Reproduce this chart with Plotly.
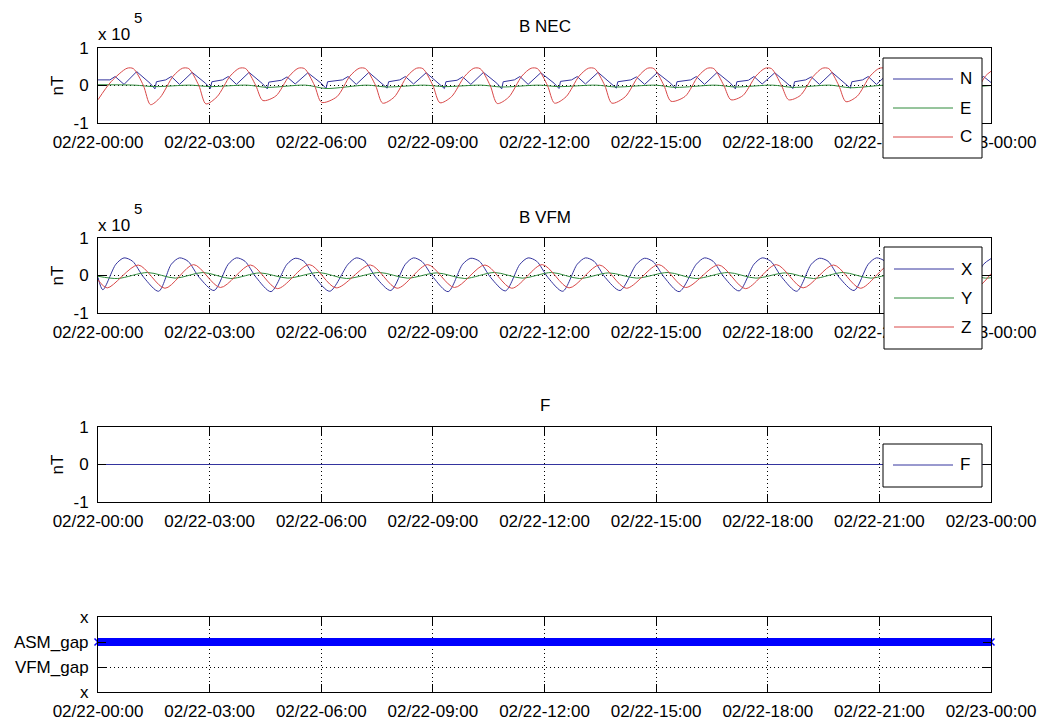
import pandas as pd
import plotly.graph_objects as go

DAY_START = pd.Timestamp("2014-02-22 00:00")
TICK_HOURS = [0, 3, 6, 9, 12, 15, 18, 21, 24]

# ---- B NEC, values in units of 1e5 nT ----
nec_c_hours = [0.00, 0.35,
               0.78, 0.95, 1.22, 1.41, 1.67, 2.02,
               2.27, 2.44, 2.71, 2.90, 3.20, 3.55,
               3.80, 3.97, 4.24, 4.43, 4.78, 5.13,
               5.38, 5.55, 5.82, 6.01, 6.42, 6.77,
               7.02, 7.19, 7.46, 7.65, 7.96, 8.31,
               8.56, 8.73, 9.00, 9.19, 9.50, 9.85,
               10.10, 10.27, 10.54, 10.73, 11.04, 11.39,
               11.64, 11.81, 12.08, 12.27, 12.58, 12.93,
               13.18, 13.35, 13.62, 13.81, 14.17, 14.52,
               14.77, 14.94, 15.21, 15.40, 15.78, 16.13,
               16.38, 16.55, 16.82, 17.01, 17.33, 17.68,
               17.93, 18.10, 18.37, 18.56, 18.87, 19.22,
               19.47, 19.64, 19.91, 20.10, 20.40, 20.75,
               21.00, 21.17, 21.44, 21.63, 21.95, 22.30,
               22.55, 22.72, 22.99, 23.18, 23.50, 23.85,
               24.00]
nec_c = [-0.38, 0.10,
         0.46, 0.45, 0.00, -0.51, -0.32, 0.25,
         0.46, 0.45, 0.00, -0.49, -0.30, 0.25,
         0.46, 0.45, 0.00, -0.40, -0.28, 0.24,
         0.46, 0.45, 0.00, -0.45, -0.30, 0.25,
         0.46, 0.45, 0.00, -0.47, -0.31, 0.25,
         0.46, 0.45, 0.00, -0.46, -0.30, 0.24,
         0.46, 0.45, 0.00, -0.48, -0.31, 0.25,
         0.46, 0.45, 0.00, -0.47, -0.30, 0.25,
         0.46, 0.45, 0.00, -0.47, -0.30, 0.24,
         0.46, 0.45, 0.00, -0.42, -0.29, 0.25,
         0.46, 0.45, 0.00, -0.38, -0.27, 0.25,
         0.46, 0.45, 0.00, -0.38, -0.27, 0.24,
         0.46, 0.45, 0.00, -0.43, -0.29, 0.25,
         0.46, 0.45, 0.00, -0.45, -0.30, 0.25,
         0.46, 0.45, 0.00, -0.45, -0.30, 0.25,
         0.38]

nec_n_hours = [0.00, 0.32, 0.46,
               0.70, 1.04, 1.40, 1.53, 1.57, 1.82, 1.97,
               2.19, 2.53, 2.89, 3.02, 3.06, 3.35, 3.50,
               3.72, 4.06, 4.42, 4.55, 4.59, 4.93, 5.08,
               5.30, 5.64, 6.00, 6.13, 6.17, 6.57, 6.72,
               6.94, 7.28, 7.64, 7.77, 7.81, 8.11, 8.26,
               8.48, 8.82, 9.18, 9.31, 9.35, 9.65, 9.80,
               10.02, 10.36, 10.72, 10.85, 10.89, 11.19, 11.34,
               11.56, 11.90, 12.26, 12.39, 12.43, 12.73, 12.88,
               13.10, 13.44, 13.80, 13.93, 13.97, 14.32, 14.47,
               14.69, 15.03, 15.39, 15.52, 15.56, 15.93, 16.08,
               16.30, 16.64, 17.00, 17.13, 17.17, 17.48, 17.63,
               17.85, 18.19, 18.55, 18.68, 18.72, 19.02, 19.17,
               19.39, 19.73, 20.09, 20.22, 20.26, 20.55, 20.70,
               20.92, 21.26, 21.62, 21.75, 21.79, 22.10, 22.25,
               22.47, 22.81, 23.17, 23.30, 23.34, 23.65, 23.80,
               24.00]
nec_n = [0.15, 0.15, 0.24,
         0.03, 0.37, 0.06, -0.09, 0.10, 0.15, 0.24,
         0.03, 0.35, 0.06, -0.08, 0.10, 0.15, 0.24,
         0.03, 0.35, 0.05, -0.09, 0.09, 0.14, 0.23,
         0.04, 0.34, 0.06, -0.08, 0.10, 0.15, 0.24,
         0.03, 0.35, 0.06, -0.07, 0.10, 0.15, 0.24,
         0.04, 0.34, 0.05, -0.08, 0.10, 0.14, 0.23,
         0.03, 0.35, 0.06, -0.09, 0.10, 0.15, 0.24,
         0.03, 0.34, 0.06, -0.08, 0.11, 0.15, 0.24,
         0.04, 0.35, 0.05, -0.07, 0.10, 0.15, 0.23,
         0.03, 0.34, 0.06, -0.08, 0.10, 0.15, 0.24,
         0.03, 0.35, 0.06, -0.09, 0.10, 0.14, 0.24,
         0.04, 0.34, 0.05, -0.08, 0.10, 0.15, 0.23,
         0.03, 0.35, 0.06, -0.07, 0.10, 0.15, 0.24,
         0.03, 0.34, 0.06, -0.08, 0.10, 0.15, 0.24,
         0.04, 0.35, 0.05, -0.08, 0.10, 0.15, 0.24,
         0.08]

nec_e_hours = [0.00, 0.98, 1.53, 2.47, 3.02, 4.00, 4.55, 5.58, 6.13, 7.22, 7.77, 8.76, 9.31,
               10.30, 10.85, 11.84, 12.39, 13.38, 13.93, 14.97, 15.52, 16.58, 17.13,
               18.13, 18.68, 19.67, 20.22, 21.20, 21.75, 22.75, 23.30, 24.00]
nec_e = [0.02, 0.01, -0.03, 0.01, -0.03, 0.01, -0.05, 0.01, -0.08, 0.01, -0.04, 0.01, -0.03,
         0.01, -0.04, 0.01, -0.03, 0.01, -0.04, 0.01, -0.05, 0.01, -0.04,
         0.01, -0.05, 0.01, -0.06, 0.01, -0.04, 0.01, -0.04, 0.00]

# ---- B VFM, values in units of 1e5 nT ----
vfm_x_hours = [0.00, 0.13,
               0.48, 0.70, 0.93, 1.23, 1.63,
               1.97, 2.19, 2.42, 2.72, 3.12,
               3.50, 3.72, 3.95, 4.25, 4.65,
               5.08, 5.30, 5.53, 5.83, 6.23,
               6.72, 6.94, 7.17, 7.47, 7.87,
               8.26, 8.48, 8.71, 9.01, 9.41,
               9.80, 10.02, 10.25, 10.55, 10.95,
               11.34, 11.56, 11.79, 12.09, 12.49,
               12.88, 13.10, 13.33, 13.63, 14.03,
               14.47, 14.69, 14.92, 15.22, 15.62,
               16.08, 16.30, 16.53, 16.83, 17.23,
               17.63, 17.85, 18.08, 18.38, 18.78,
               19.17, 19.39, 19.62, 19.92, 20.32,
               20.70, 20.92, 21.15, 21.45, 21.85,
               22.25, 22.47, 22.70, 23.00, 23.40,
               23.80, 24.00]
vfm_x = [-0.05, -0.38,
         0.30, 0.47, 0.38, -0.05, -0.42,
         0.30, 0.47, 0.38, -0.05, -0.40,
         0.30, 0.47, 0.38, -0.05, -0.43,
         0.30, 0.46, 0.38, -0.05, -0.42,
         0.30, 0.47, 0.38, -0.05, -0.40,
         0.30, 0.47, 0.37, -0.05, -0.43,
         0.30, 0.46, 0.38, -0.05, -0.41,
         0.30, 0.47, 0.38, -0.05, -0.42,
         0.30, 0.47, 0.38, -0.05, -0.40,
         0.30, 0.46, 0.37, -0.05, -0.43,
         0.30, 0.47, 0.38, -0.05, -0.41,
         0.30, 0.47, 0.38, -0.05, -0.42,
         0.30, 0.46, 0.38, -0.05, -0.40,
         0.30, 0.47, 0.38, -0.05, -0.42,
         0.30, 0.47, 0.37, -0.05, -0.41,
         0.30, 0.45]

vfm_z_hours = [0.00, 0.25, 1.08, 1.80, 2.57, 3.29, 4.10, 4.82, 5.68, 6.40, 7.32, 8.04,
               8.86, 9.58, 10.40, 11.12, 11.94, 12.66, 13.48, 14.20, 15.07, 15.79,
               16.68, 17.40, 18.23, 18.95, 19.77, 20.49, 21.30, 22.02, 22.85, 23.57, 24.00]
vfm_z = [-0.12, -0.33, 0.28, -0.34, 0.29, -0.32, 0.28, -0.35, 0.29, -0.33, 0.28, -0.34,
         0.29, -0.32, 0.28, -0.34, 0.29, -0.33, 0.28, -0.34, 0.29, -0.32,
         0.28, -0.35, 0.29, -0.33, 0.28, -0.34, 0.29, -0.32, 0.28, -0.34, 0.05]

vfm_y_hours = [0.00, 0.53, 1.33, 2.08, 2.82, 3.57, 4.35, 5.10, 5.93, 6.68, 7.57, 8.32,
               9.11, 9.86, 10.65, 11.40, 12.19, 12.94, 13.73, 14.48, 15.32, 16.07,
               16.93, 17.68, 18.48, 19.23, 20.02, 20.77, 21.55, 22.30, 23.10, 23.85, 24.00]
vfm_y = [-0.02, -0.08, 0.08, -0.07, 0.08, -0.08, 0.07, -0.07, 0.08, -0.08, 0.08, -0.07,
         0.07, -0.08, 0.08, -0.07, 0.08, -0.08, 0.07, -0.07, 0.08, -0.08,
         0.08, -0.07, 0.07, -0.08, 0.08, -0.07, 0.08, -0.08, 0.07, -0.07, -0.06]

# ---- F and gap flags ----
f_hours = [0, 6, 12, 18, 24]
f_values = [0, 0, 0, 0, 0]

asm_gap_hours = list(range(0, 25))
GAP_LEVELS = [0, 1, 2, 3]
GAP_LABELS = ["x", "VFM_gap", "ASM_gap", "x"]
ASM_GAP_LEVEL = 2


def stamps(hours):
    return [DAY_START + pd.Timedelta(hours=h) for h in hours]


W, H = 1041, 722
PLOT_LEFT, PLOT_RIGHT = 98, 991
PANEL_PX = [(48, 123), (238, 313), (427, 502), (617, 692)]
FONT = "Liberation Sans, Arial, sans-serif"
FS = 17
BLUE, GREEN, RED = "#34349e", "#2e8a3a", "#d94848"


def px_x(x):
    return x / W


def px_y(y):
    return 1 - y / H


fig = go.Figure()


def add_line(panel, hours, values, color, shape="linear", name=None):
    sfx = "" if panel == 1 else str(panel)
    fig.add_trace(go.Scatter(
        x=stamps(hours), y=values, mode="lines", name=name,
        line=dict(color=color, width=1, shape=shape, smoothing=0.8),
        xaxis="x" + sfx, yaxis="y" + sfx, showlegend=False, hoverinfo="skip"))


add_line(1, nec_n_hours, nec_n, BLUE, "linear", "N")
add_line(1, nec_e_hours, nec_e, GREEN, "spline", "E")
add_line(1, nec_c_hours, nec_c, RED, "spline", "C")
add_line(2, vfm_x_hours, vfm_x, BLUE, "spline", "X")
add_line(2, vfm_y_hours, vfm_y, GREEN, "spline", "Y")
add_line(2, vfm_z_hours, vfm_z, RED, "spline", "Z")
add_line(3, f_hours, f_values, BLUE, "linear", "F")

fig.add_trace(go.Scatter(
    x=stamps(asm_gap_hours), y=[ASM_GAP_LEVEL] * len(asm_gap_hours),
    mode="lines+markers", name="ASM_gap",
    line=dict(color="#0000ff", width=8),
    marker=dict(symbol="x-thin", size=7, line=dict(color="#0000ff", width=1.5)),
    cliponaxis=False, xaxis="x4", yaxis="y4", showlegend=False, hoverinfo="skip"))

tickfont = dict(family=FONT, size=FS, color="black")
common = dict(showline=True, linecolor="black", linewidth=1, mirror="ticks",
              ticks="inside", ticklen=8, tickcolor="black", tickwidth=1,
              showgrid=True, gridcolor="black", gridwidth=1, griddash="1px,3px",
              zeroline=False, tickfont=tickfont, automargin=False)

layout = dict(width=W, height=H, autosize=False,
              margin=dict(l=0, r=0, t=0, b=0, pad=0, autoexpand=False),
              paper_bgcolor="white", plot_bgcolor="white",
              showlegend=False, font=dict(family=FONT, size=FS, color="black"))

for i, (top, bot) in enumerate(PANEL_PX, 1):
    sfx = "" if i == 1 else str(i)
    layout["xaxis" + sfx] = dict(
        common, domain=[px_x(PLOT_LEFT), px_x(PLOT_RIGHT)], anchor="y" + sfx,
        range=[DAY_START, DAY_START + pd.Timedelta(hours=24)],
        tickvals=stamps(TICK_HOURS), tickformat="%m/%d-%H:%M",
        ticklabelstandoff=4)
    if i < 4:
        yax = dict(range=[-1, 1], tickvals=[-1, 0, 1], ticktext=["-1", "0", "1"])
    else:
        yax = dict(range=[0, 3], tickvals=GAP_LEVELS, ticktext=GAP_LABELS)
    layout["yaxis" + sfx] = dict(common, domain=[px_y(bot), px_y(top)],
                                 anchor="x" + sfx, ticklabelstandoff=5, **yax)

fig.update_layout(**layout)

ann = []
shapes = []


def text(x, y, s, size=FS, anchor="center", angle=0):
    ann.append(dict(x=px_x(x), y=px_y(y), xref="paper", yref="paper", text=s,
                    showarrow=False, xanchor=anchor, yanchor="middle", textangle=angle,
                    font=dict(family=FONT, size=size, color="black")))


for title, (top, bot) in zip(["B NEC", "B VFM", "F"], PANEL_PX[:3]):
    text((PLOT_LEFT + PLOT_RIGHT) / 2, top - 21, title)
    text(57, (top + bot) / 2, "nT", angle=-90)

for top, _ in PANEL_PX[:2]:
    text(PLOT_LEFT - 2, top - 13, "x 10", anchor="left")
    text(132, top - 30, "5", size=15, anchor="left")

# legend boxes drawn on top of the axes
legends = [
    ((883, 58, 982, 158), [("N", BLUE, 79), ("E", GREEN, 108), ("C", RED, 137)]),
    ((884, 247, 982, 349), [("X", BLUE, 269), ("Y", GREEN, 298), ("Z", RED, 327)]),
    ((883, 444, 982, 487), [("F", BLUE, 465)]),
]
for (x0, y0, x1, y1), rows in legends:
    shapes.append(dict(type="rect", xref="paper", yref="paper", layer="above",
                       x0=px_x(x0), x1=px_x(x1), y0=px_y(y1), y1=px_y(y0),
                       line=dict(color="black", width=1), fillcolor="white"))
    for label, color, yy in rows:
        shapes.append(dict(type="line", xref="paper", yref="paper", layer="above",
                           x0=px_x(x0 + 10), x1=px_x(x0 + 70), y0=px_y(yy), y1=px_y(yy),
                           line=dict(color=color, width=1)))
        text(x0 + 75, yy, label, anchor="left")

fig.update_layout(annotations=ann, shapes=shapes)
fig.write_html("out.html")
